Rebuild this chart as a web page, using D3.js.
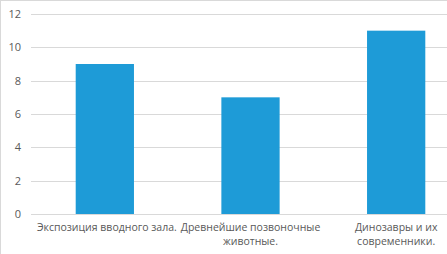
<!DOCTYPE html>
<html><head><meta charset="utf-8">
<script src="https://cdn.jsdelivr.net/npm/d3@7"></script>
<style>body{margin:0;background:#fff}svg{display:block}</style>
</head><body>
<script>
const categories = ["Экспозиция вводного зала.", "Древнейшие позвоночные животные.", "Динозавры и их современники."];
const labelLines = [["Экспозиция вводного зала."], ["Древнейшие позвоночные", "животные."], ["Динозавры и их", "современники."]];
const values = [9, 7, 11];
const yTicks = [0, 2, 4, 6, 8, 10, 12];

const W = 447, H = 254;
const svg = d3.select("body").append("svg").attr("width", W).attr("height", H);
svg.append("rect").attr("width", W).attr("height", H).attr("fill", "#fff");
svg.append("line").attr("x1", 0).attr("x2", W).attr("y1", 0.5).attr("y2", 0.5).attr("stroke", "#d9d9d9");
svg.append("line").attr("x1", 0.5).attr("x2", 0.5).attr("y1", 0).attr("y2", H).attr("stroke", "#d9d9d9");

const x = d3.scaleBand().domain(categories).range([32, 469]).paddingInner(0.6).paddingOuter(0.3);
const y = d3.scaleLinear().domain([0, 12]).range([214, 14]);
const font = "'Open Sans', sans-serif";

svg.append("g").selectAll("line").data(yTicks).join("line")
  .attr("x1", 31).attr("x2", W)
  .attr("y1", d => Math.round(y(d)) + 0.5).attr("y2", d => Math.round(y(d)) + 0.5)
  .attr("stroke", "#d9d9d9").attr("stroke-width", 1);

svg.append("g").selectAll("text").data(yTicks).join("text")
  .attr("x", 21).attr("y", d => y(d) + 4)
  .attr("text-anchor", "end").attr("font-family", font).attr("font-size", 11).attr("fill", "#595959")
  .text(d => d);

svg.append("g").selectAll("rect").data(values).join("rect")
  .attr("x", (d, i) => x(categories[i])).attr("width", x.bandwidth())
  .attr("y", d => y(d)).attr("height", d => y(0) - y(d))
  .attr("fill", "#1e9bd7");

const lab = svg.append("g").selectAll("text").data(labelLines).join("text")
  .attr("text-anchor", "middle").attr("font-family", font).attr("font-size", 10.5).attr("fill", "#595959")
  .attr("transform", (d, i) => `translate(${x(categories[i]) + x.bandwidth() / 2 + (i === 0 ? 2 : 0)},231)`);
lab.selectAll("tspan").data(d => d).join("tspan")
  .attr("x", 0).attr("dy", (d, j) => j === 0 ? 0 : 14).text(d => d);
</script>
</body></html>
